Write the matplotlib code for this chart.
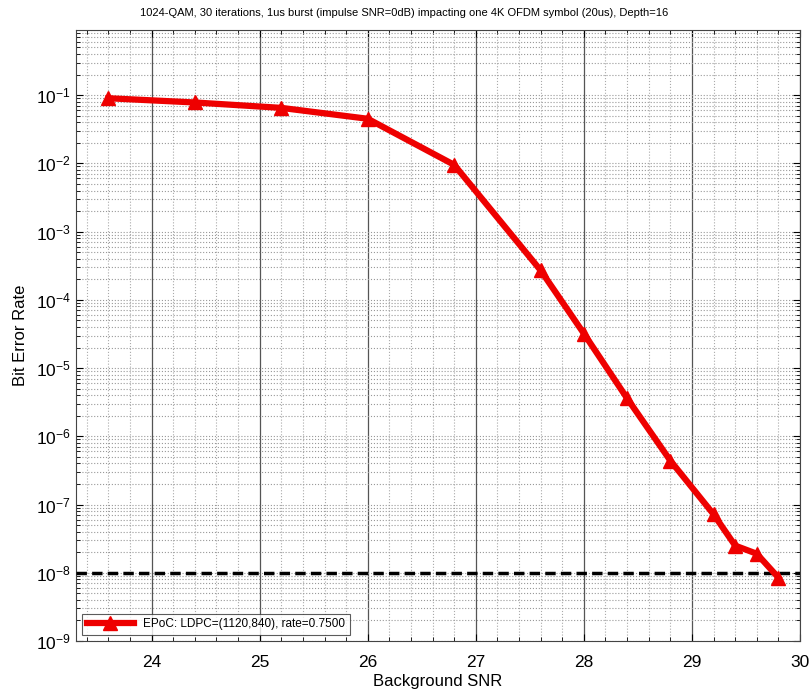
import numpy as np
import matplotlib
matplotlib.use("Agg")
import matplotlib.pyplot as plt
from matplotlib.ticker import LogLocator, MultipleLocator, FixedLocator, NullFormatter

plt.rcParams['font.family'] = ['Liberation Sans', 'DejaVu Sans']

snr = [23.6, 24.4, 25.2, 26.0, 26.8, 27.6, 28.0, 28.4, 28.8, 29.2, 29.4, 29.6, 29.8]
ber = [0.09, 0.078, 0.065, 0.045, 0.0095, 2.7e-4, 3.2e-5, 3.6e-6, 4.4e-7, 7.2e-8, 2.5e-8, 1.9e-8, 8.5e-9]
target_ber = 1e-8
xticks = [24, 25, 26, 27, 28, 29, 30]
series_label = "EPoC: LDPC=(1120,840), rate=0.7500"
title = "1024-QAM, 30 iterations, 1us burst (impulse SNR=0dB) impacting one 4K OFDM symbol (20us), Depth=16"

fig = plt.figure(figsize=(8.09, 6.93), dpi=100)
ax = fig.add_axes([76/809, 1 - 641/693, (800-76)/809, (641-30)/693])

ax.set_yscale('log')
ax.set_xlim(23.3, 30)
ax.set_ylim(1e-9, 0.9)

ax.xaxis.set_major_locator(FixedLocator(xticks))
ax.xaxis.set_minor_locator(MultipleLocator(0.2))
ax.yaxis.set_major_locator(LogLocator(base=10, numticks=20))
ax.yaxis.set_minor_locator(LogLocator(base=10, subs=np.arange(2, 10), numticks=200))
ax.yaxis.set_minor_formatter(NullFormatter())

ax.grid(True, which='major', axis='x', color='#555555', linestyle='-', linewidth=0.9)
ax.grid(True, which='minor', axis='x', color='#aaaaaa', linestyle=':', linewidth=0.8)
ax.grid(True, which='both', axis='y', color='#999999', linestyle=':', linewidth=0.8)
ax.set_axisbelow(True)

ax.tick_params(axis='both', which='major', labelsize=12.5, direction='in', length=5, top=True, right=True)
ax.tick_params(axis='x', which='major', pad=10)
ax.tick_params(axis='both', which='minor', direction='in', length=3, top=True, right=True)

ax.axhline(target_ber, color='black', linestyle=(0, (3, 1.5)), linewidth=2.5, zorder=3)
ax.plot(snr, ber, color='#ee0000', linewidth=4.5, marker='^', markersize=10,
        markerfacecolor='#ee0000', markeredgecolor='#ee0000', label=series_label, zorder=4)

for s in ax.spines.values():
    s.set_color('#444444')
    s.set_linewidth(0.8)

ax.set_xlabel("Background SNR", fontsize=12, labelpad=3)
ax.set_ylabel("Bit Error Rate", fontsize=12, labelpad=6)
fig.text(0.5, 1 - 13/693, title, ha='center', va='center', fontsize=8)

leg = ax.legend(loc='lower left', fontsize=8.5, frameon=True, fancybox=False,
                edgecolor='#333333', borderaxespad=0.5, handlelength=4)
leg.get_frame().set_linewidth(0.8)

fig.savefig("out.png", dpi=100)
